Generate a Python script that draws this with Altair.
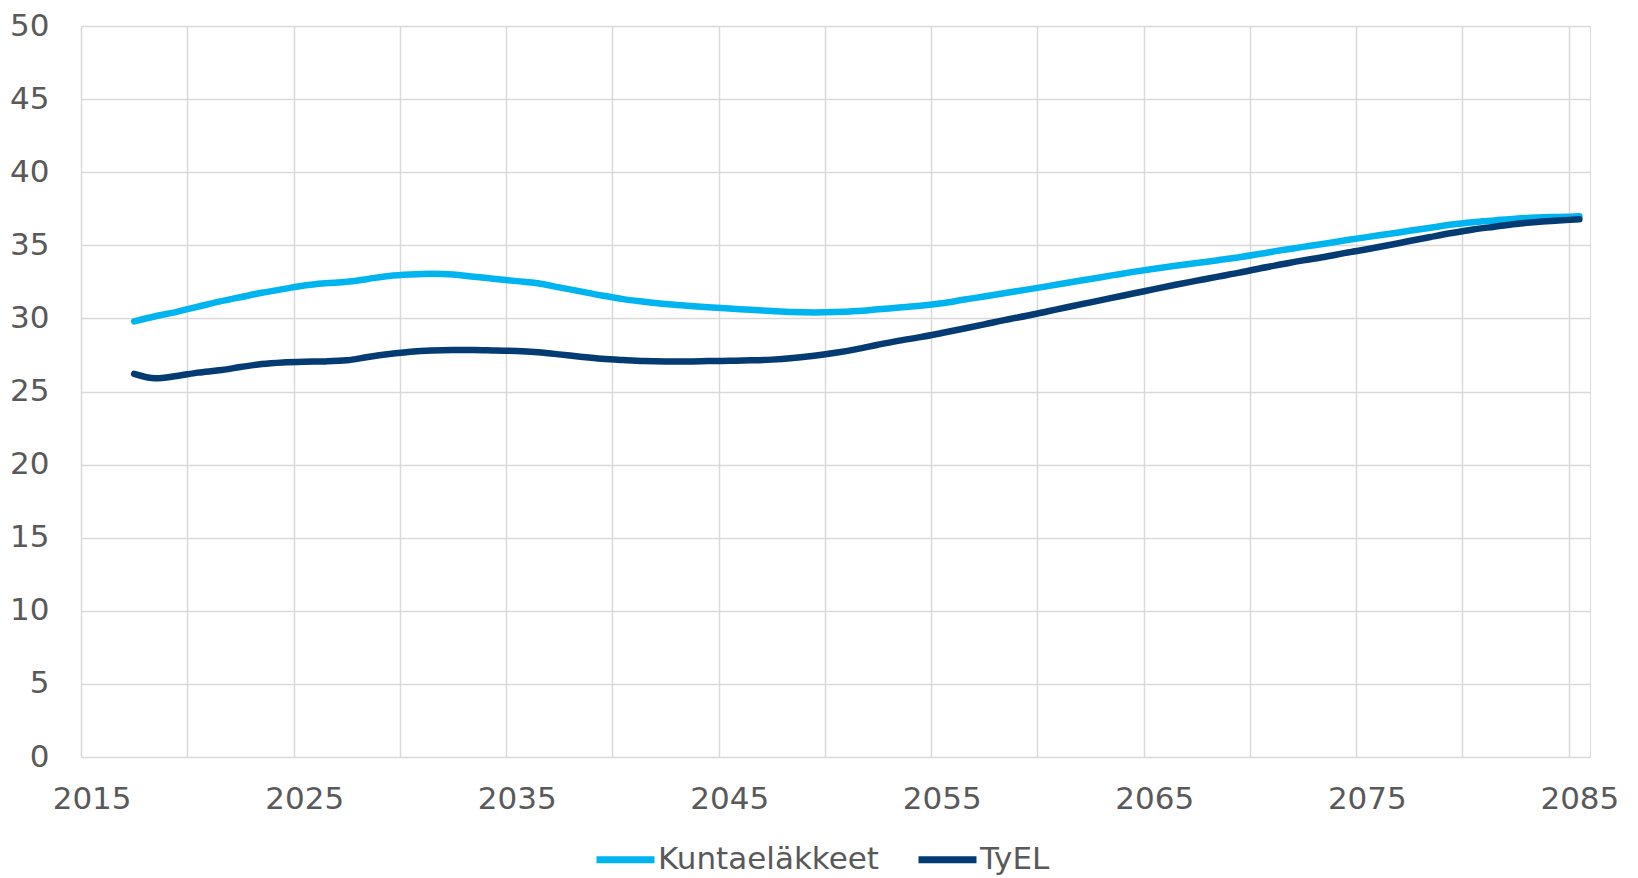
import altair as alt
import pandas as pd

years = list(range(2017, 2086))

kuntaelakkeet = [
    29.8, 30.15, 30.45, 30.8, 31.15, 31.45, 31.75, 32.0, 32.25, 32.4,
    32.5, 32.7, 32.9, 33.0, 33.05, 33.0, 32.85, 32.7, 32.55, 32.4,
    32.12, 31.85, 31.57, 31.32, 31.14, 30.98, 30.87, 30.77, 30.68, 30.59,
    30.5, 30.43, 30.41, 30.43, 30.5, 30.62, 30.74, 30.86, 31.03, 31.27,
    31.5, 31.74, 31.97, 32.21, 32.46, 32.7, 32.94, 33.18, 33.4, 33.6,
    33.79, 33.98, 34.18, 34.42, 34.67, 34.89, 35.11, 35.34, 35.56, 35.77,
    35.99, 36.2, 36.42, 36.58, 36.7, 36.82, 36.9, 36.94, 36.98,
]

tyel = [
    26.2, 25.9, 26.06, 26.29, 26.45, 26.67, 26.88, 26.99, 27.04, 27.06,
    27.13, 27.36, 27.56, 27.72, 27.81, 27.84, 27.84, 27.8, 27.77, 27.68,
    27.54, 27.38, 27.24, 27.15, 27.08, 27.06, 27.06, 27.08, 27.1, 27.13,
    27.18, 27.29, 27.45, 27.65, 27.9, 28.2, 28.48, 28.72, 29.0, 29.29,
    29.59, 29.9, 30.18, 30.49, 30.8, 31.1, 31.4, 31.7, 32.0, 32.3,
    32.58, 32.86, 33.13, 33.43, 33.7, 33.97, 34.2, 34.48, 34.73, 35.0,
    35.29, 35.57, 35.84, 36.08, 36.27, 36.46, 36.6, 36.69, 36.78,
]

series_names = ["Kuntaeläkkeet", "TyEL"]
series_colors = ["#00B5EF", "#033B72"]
x_ticks = list(range(2015, 2086, 5))
y_ticks = list(range(0, 51, 5))

df = pd.concat([
    pd.DataFrame({"year": years, "value": kuntaelakkeet, "series": series_names[0]}),
    pd.DataFrame({"year": years, "value": tyel, "series": series_names[1]}),
])

W = 1509
H = 731
half_year_px = W / 71 / 2

FONT = "DejaVu Sans"
GREY = "#595959"
GRID = "#d9d9d9"

chart = (
    alt.Chart(df)
    .mark_line(strokeWidth=6.5, strokeCap="round", strokeJoin="round", interpolate="monotone")
    .encode(
        x=alt.X(
            "year:Q",
            scale=alt.Scale(domain=[2014.5, 2085.5], nice=False, zero=False),
            axis=alt.Axis(
                values=x_ticks,
                title=None,
                grid=True,
                gridColor=GRID,
                gridWidth=1.5,
                ticks=False,
                tickSize=0,
                domain=False,
                tickOffset=-half_year_px,
                labelOffset=half_year_px,
                labelExpr="(datum.value - 2015) % 10 == 0 ? datum.value + '' : ''",
                labelFont=FONT,
                labelFontSize=31,
                labelColor=GREY,
                labelPadding=27,
                labelOverlap=False,
                labelFlush=False,
            ),
        ),
        y=alt.Y(
            "value:Q",
            scale=alt.Scale(domain=[0, 50], nice=False),
            axis=alt.Axis(
                values=y_ticks,
                title=None,
                grid=True,
                gridColor=GRID,
                gridWidth=1.5,
                ticks=False,
                tickSize=0,
                domain=False,
                labelFont=FONT,
                labelFontSize=31,
                labelColor=GREY,
                labelPadding=32,
            ),
        ),
        color=alt.Color(
            "series:N",
            scale=alt.Scale(domain=series_names, range=series_colors),
            legend=alt.Legend(
                title=None,
                orient="none",
                legendX=512,
                legendY=801,
                direction="horizontal",
                symbolType="stroke",
                symbolSize=3364,
                symbolStrokeWidth=7,
                labelFont=FONT,
                labelFontSize=31,
                labelColor=GREY,
                labelOffset=0,
                labelLimit=0,
                columnPadding=24,
                padding=0,
            ),
        ),
    )
    .properties(width=W, height=H, padding={"left": 1, "top": 2, "right": 5, "bottom": 0})
    .configure_view(strokeWidth=0)
    .configure(background="white")
)

chart.save("out.html", embed_options={"renderer": "svg", "actions": False})
